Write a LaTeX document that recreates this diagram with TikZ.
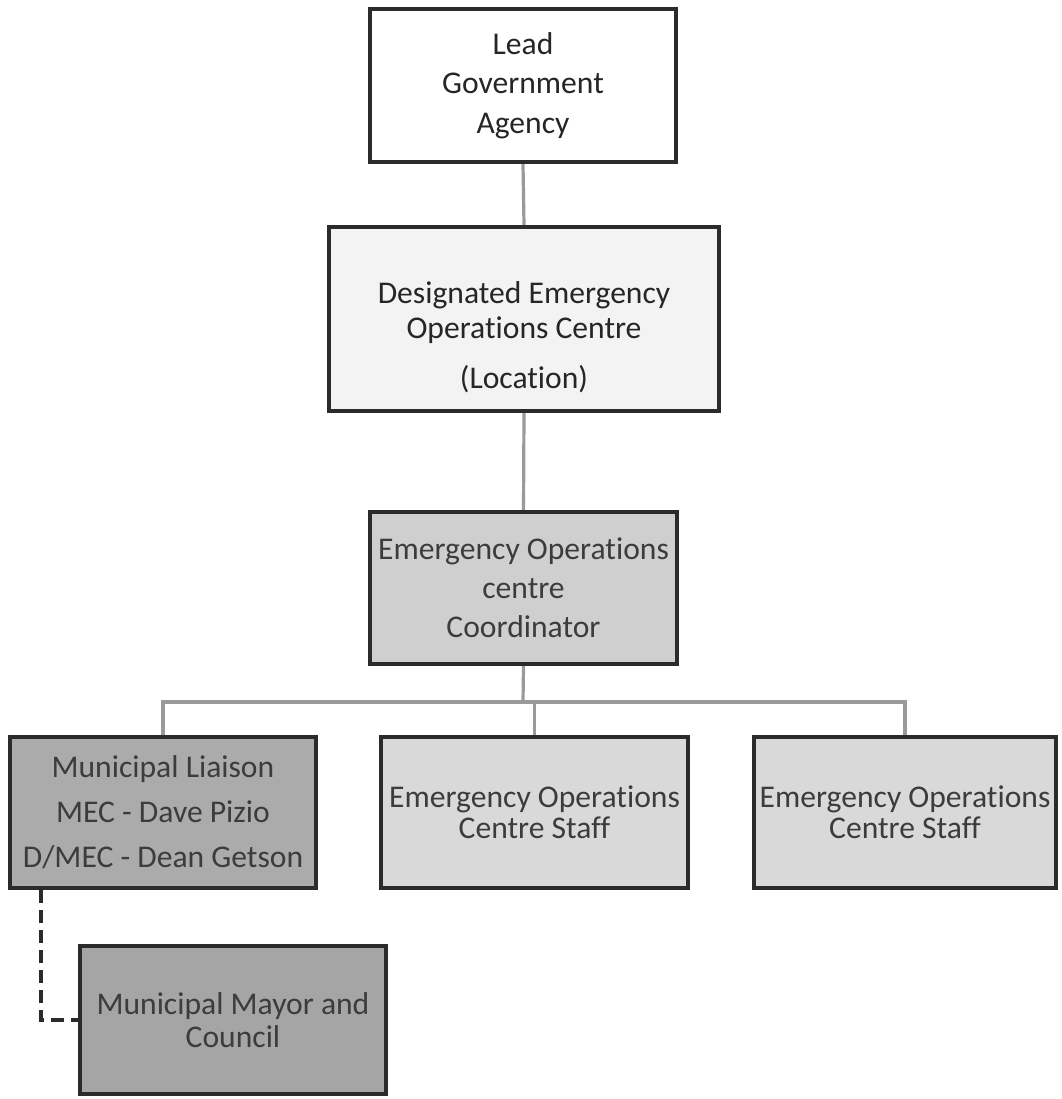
\documentclass[tikz,border=0pt]{standalone}
\usepackage{fontspec}
\setmainfont{Carlito}[Ligatures={NoCommon}]
\definecolor{bordercol}{HTML}{2B2B2B}
\definecolor{conncol}{HTML}{9A9A9A}
\definecolor{txtdark}{HTML}{262626}
\definecolor{txtmid}{HTML}{3C3C3C}
\definecolor{fillwhite}{HTML}{FFFFFF}
\definecolor{filldeoc}{HTML}{F3F3F3}
\definecolor{fillcoord}{HTML}{CFCFCF}
\definecolor{fillstaff}{HTML}{D9D9D9}
\definecolor{fillliaison}{HTML}{ABABAB}
\definecolor{fillmayor}{HTML}{A5A5A5}
\begin{document}
\begin{tikzpicture}[x=0.75pt,y=-0.75pt,
  box/.style={draw=bordercol, line width=3.2pt, rectangle, align=center, inner sep=0pt, text=txtdark},
  conn/.style={draw=conncol, line width=2.4pt},
  dconn/.style={draw=bordercol, line width=3.6pt, dash pattern=on 10pt off 5pt},
  fsa/.style={font=\fontsize{23.7}{29.6}\selectfont},
  fsb/.style={font=\fontsize{23.7}{26.25}\selectfont},
  fsc/.style={font=\fontsize{23.7}{29.25}\selectfont},
  fsd/.style={font=\fontsize{23.7}{33.75}\selectfont},
  fse/.style={font=\fontsize{23.7}{23.5}\selectfont},
  fsf/.style={font=\fontsize{23.7}{24.75}\selectfont}]
\useasboundingbox (0,0) rectangle (1061,1099);
\fill[white] (0,0) rectangle (1061,1099);

\node[box, fsa, fill=fillwhite, minimum width=229.5pt, minimum height=114.75pt] (lead) at (523,85.5) {Lead\\Government\\Agency};

\node[box, fill=filldeoc, minimum width=292.5pt, minimum height=138pt,
  label={[name=deoctext, fsb, align=center, text=txtdark, yshift=-13.9pt]center:{Designated Emergency\\Operations Centre\\[11.25pt](Location)}}] (deoc) at (524,319) {};

\node[box, fsc, fill=fillcoord, text=txtmid, minimum width=230.25pt, minimum height=114pt] (coord) at (523.5,588) {Emergency Operations\\centre\\Coordinator};

\node[box, fsd, fill=fillliaison, text=txtmid, minimum width=229.5pt, minimum height=113.25pt] (liaison) at (163,812.5) {Municipal Liaison\\MEC - Dave Pizio\\D/MEC - Dean Getson};

\node[box, fse, fill=fillstaff, text=txtmid, minimum width=230.25pt, minimum height=113.25pt] (staffa) at (534.5,812.5) {Emergency Operations\\Centre Staff};

\node[box, fse, fill=fillstaff, text=txtmid, minimum width=226.5pt, minimum height=113.25pt] (staffb) at (905,812.5) {Emergency Operations\\Centre Staff};

\node[box, fsf, fill=fillmayor, text=txtmid, minimum width=229.5pt, minimum height=111pt] (mayor) at (233,1020) {Municipal Mayor and\\Council};

\coordinate (bus) at (523,702);
\draw[conn] (lead.south) -- (deoc.north);
\draw[conn] (deoc.south) -- (coord.north);
\draw[conn] (coord.south) -- (bus);
\draw[conn] (liaison.north) |- (bus) -| (staffb.north);
\draw[conn] (staffa.north) -- (staffa.north |- bus);
\coordinate (dstart) at (41,890);
\draw[dconn] (dstart) |- (mayor.west);
\end{tikzpicture}
\end{document}
